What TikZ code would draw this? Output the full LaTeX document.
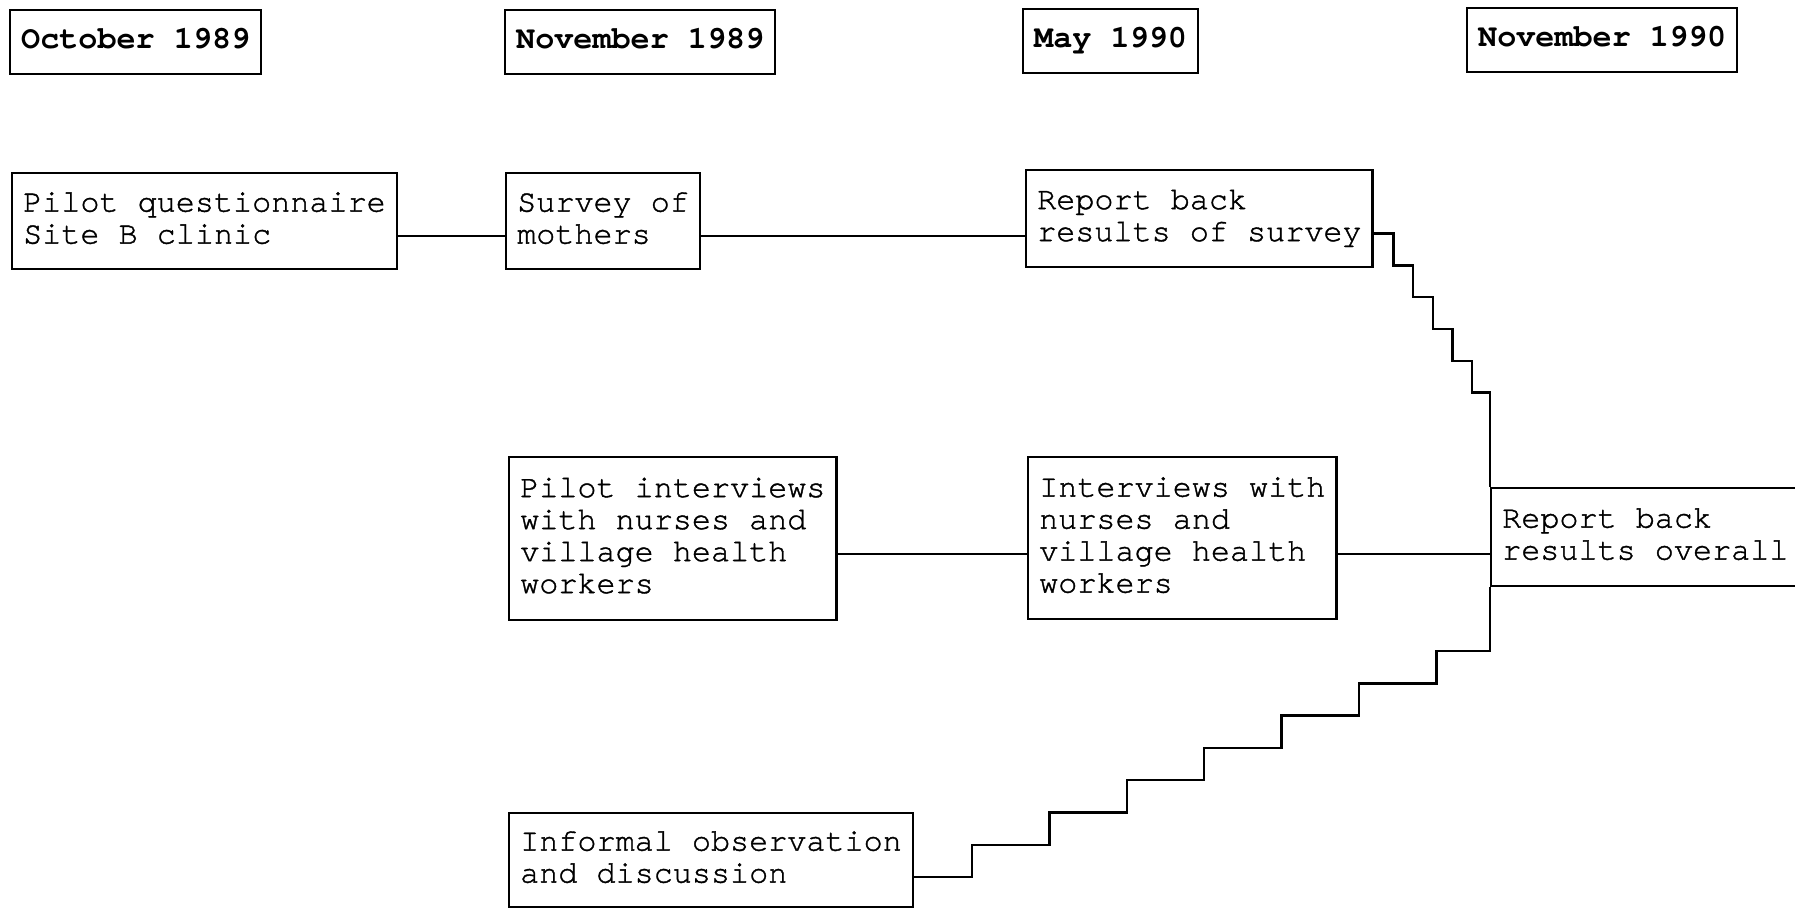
\documentclass[tikz,border=0pt]{standalone}
\usepackage{fontspec}
\setmainfont{TeX Gyre Cursor}[UprightFeatures={FakeBold=1.2}]
\begin{document}
\begin{tikzpicture}[x=0.5pt,y=-0.5pt,
  box/.style={draw, line width=1.2pt, inner xsep=5.5pt, inner ysep=0pt,
    anchor=north west, align=left, font=\fontsize{15.9pt}{16pt}\selectfont},
  head/.style={box, font=\fontsize{15.9pt}{16pt}\selectfont\bfseries, minimum height=32pt},
  link/.style={line width=1.2pt}]
\useasboundingbox (0,0) rectangle (1795,908);
\fill[white] (0,0) rectangle (1795,908);
\clip (0,0) rectangle (1795,908);

% headings
\node[head] (h1) at (9,9)    {\strut October 1989};
\node[head] (h2) at (504,9)  {\strut November 1989};
\node[head] (h3) at (1022,8) {\strut May 1990};
\node[head] (h4) at (1466,7) {\strut November 1990};

% activities
\node[box, minimum height=48pt]   (pq) at (11,172)   {\strut Pilot questionnaire\\\strut Site B clinic};
\node[box, minimum height=48pt]   (sm) at (505,172)  {\strut Survey of\\\strut mothers};
\node[box, minimum height=48.5pt] (rs) at (1025,169) {\strut Report back\\\strut results of survey};
\node[box, minimum height=81.5pt] (pi) at (508,456)  {\strut Pilot interviews\\\strut with nurses and\\\strut village health\\\strut workers};
\node[box, minimum height=81pt]   (iw) at (1027,456) {\strut Interviews with\\\strut nurses and\\\strut village health\\\strut workers};
\node[box, minimum height=49pt]   (ov) at (1490,487) {\strut Report back\\\strut results overall};
\node[box, minimum height=47pt]   (io) at (508,812)  {\strut Informal observation\\\strut and discussion};

% connectors
\draw[link] ([yshift=-7.5pt]pq.east) -- ([yshift=-7.5pt]sm.west);
\draw[link] ([yshift=-7.5pt]sm.east) coordinate (c1) -- (rs.west |- c1);
\draw[link] ([yshift=-7.75pt]pi.east) coordinate (c2) -- (iw.west |- c2);
\draw[link] ([yshift=-8pt]iw.east) coordinate (c3) -- (ov.west |- c3);

% upper staircase
\draw[link] ([yshift=-7.5pt]rs.east)
  -- ++(19.67,0) -- ++(0,31.8)
  -- ++(19.67,0) -- ++(0,31.8)
  -- ++(19.67,0) -- ++(0,31.8)
  -- ++(19.67,0) -- ++(0,31.8)
  -- ++(19.67,0) -- ++(0,31.8)
  -| (ov.north west);

% lower staircase
\draw[link] ([yshift=-8.5pt]io.east)
  -- ++(58,0) -- ++(0,-32.3)
  -- ++(77.4,0) -- ++(0,-32.3)
  -- ++(77.4,0) -- ++(0,-32.3)
  -- ++(77.4,0) -- ++(0,-32.3)
  -- ++(77.4,0) -- ++(0,-32.3)
  -- ++(77.4,0) -- ++(0,-32.3)
  -- ++(77.4,0) -- ++(0,-32.3)
  -| (ov.south west);
\end{tikzpicture}
\end{document}
